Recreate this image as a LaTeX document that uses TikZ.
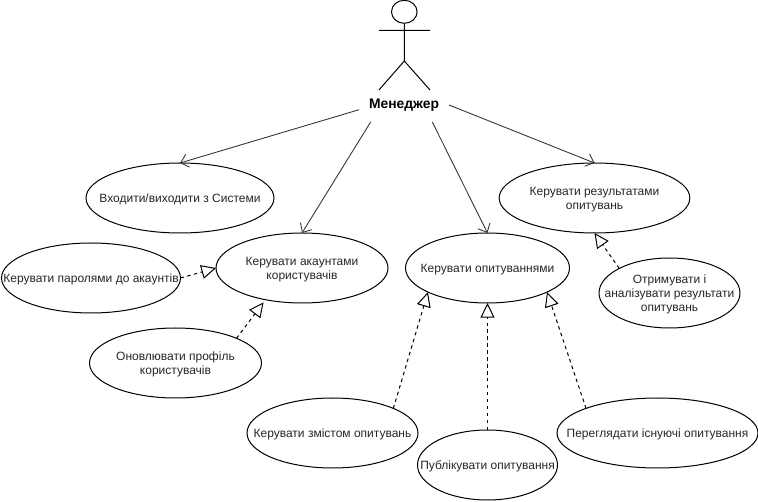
\documentclass[tikz,border=0pt]{standalone}
\usepackage{fontspec}
\setmainfont{Liberation Sans}
\usetikzlibrary{arrows.meta,shapes.geometric}
\newcommand{\uctext}[1]{\raisebox{-3.35pt}[0pt][0pt]{\makebox[0pt]{\begin{tabular}{@{}c@{}}#1\end{tabular}}}}
\tikzset{
  uc/.style={draw=black,ellipse,line width=0.75pt,inner sep=0pt,outer sep=0pt,
    minimum height=52.5pt,text=black!85,font=\fontsize{9}{10.5}\selectfont},
  assoc/.style={line width=0.65pt,draw=black!80,-{Straight Barb[length=5.5pt,width=10pt,line width=0.65pt]}},
  real/.style={line width=0.75pt,draw=black,dash pattern=on 2.6pt off 2.6pt,
    -{Triangle[open,length=11pt,width=10.5pt,line width=0.75pt]}},
  stick/.style={line width=0.75pt,draw=black},
}
\begin{document}
\begin{tikzpicture}[x=0.75pt,y=-0.75pt]
\useasboundingbox (0,0) rectangle (758,502);
% actor
\draw[stick] (404.3,11.8) ellipse [x radius=12.8,y radius=11.5];
\draw[stick] (404.3,23.3) -- (404.3,61) (379,30.3) -- (430,30.3)
  (379,90) -- (404.3,61) -- (430,90);
\node[inner sep=0pt,outer sep=0pt,minimum width=67.5pt,minimum height=25.5pt,
  font=\fontsize{10.4}{12}\selectfont\bfseries] (mgr) at (404,105) {Менеджер};
% use cases
\node[uc,minimum width=141pt] (login) at (180,198) {\uctext{Входити/виходити з Системи}};
\node[uc,minimum width=134.25pt] (pass) at (91,278) {\uctext{Керувати паролями до акаунтів}};
\node[uc,minimum width=129pt] (acc) at (302,268) {\uctext{Керувати акаунтами\\користувачів}};
\node[uc,minimum width=129pt] (prof) at (175.5,363) {\uctext{Оновлювати профіль\\користувачів}};
\node[uc,minimum width=123pt] (surv) at (487.5,268) {\uctext{Керувати опитуваннями}};
\node[uc,minimum width=143pt] (res) at (594.5,198) {\uctext{Керувати результатами\\опитувань}};
\node[uc,minimum width=105.75pt] (anal) at (669.5,293) {\uctext{Отримувати і\\аналізувати результати\\опитувань}};
\node[uc,minimum width=128.25pt] (cont) at (332.5,433) {\uctext{Керувати змістом опитувань}};
\node[uc,minimum width=105pt] (pub) at (487.5,465) {\uctext{Публікувати опитування}};
\node[uc,minimum width=150.75pt] (view) at (657.5,433) {\uctext{Переглядати існуючі опитування}};
% associations
\draw[assoc] (mgr.186) -- (login.north);
\draw[assoc] (mgr.207) -- (acc.north);
\draw[assoc] (mgr.-31) -- (surv.north);
\draw[assoc] (mgr.east) -- (res.north);
% realizations
\draw[real] (pass.east) -- (acc.west);
\draw[real,shorten >=2.5pt] (prof.22) -- (acc.221);
\draw[real] (cont.22.5) -- (surv.202.7);
\draw[real] (pub.north) -- (surv.south);
\draw[real] (view.161) -- (surv.-22.7);
\draw[real] (anal.154) -- (res.south);
\end{tikzpicture}
\end{document}
